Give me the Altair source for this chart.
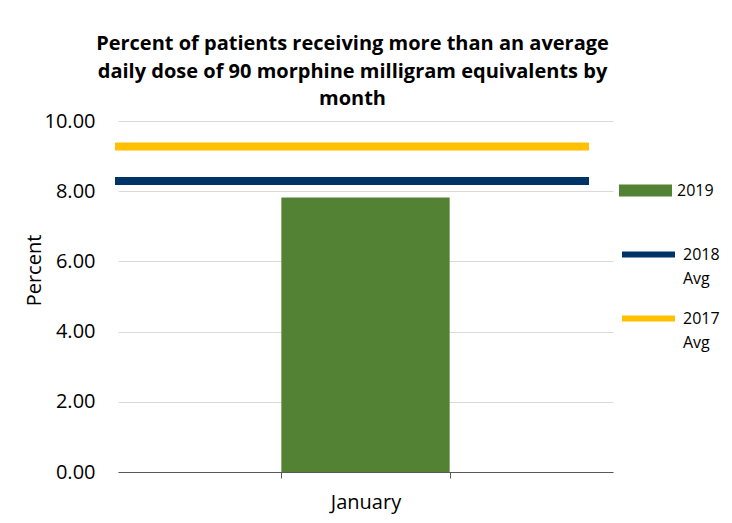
import altair as alt
import pandas as pd

FONT = "Open Sans"

months = ["January"]
values_2019 = [7.82]
avg_series = ["2018 Avg", "2017 Avg"]
avg_values = [8.29, 9.27]
y_ticks = [0, 2, 4, 6, 8, 10]

# second line of each average's legend label ("Avg"), keyed separately so the legends stay apart
avg_second_line = ["Avg 2018", "Avg 2017"]

bar_df = pd.DataFrame({"month": months, "value": values_2019, "series": ["2019"] * len(months)})
avg_df = pd.DataFrame({"series": avg_series, "series_b": avg_second_line, "value": avg_values})

y_scale = alt.Scale(domain=[0, 10], nice=False)

bars = alt.Chart(bar_df).mark_bar().encode(
    x=alt.X("month:N", scale=alt.Scale(paddingInner=0.66, paddingOuter=0.33),
            axis=alt.Axis(title=None, labelAngle=0, domainColor="#595959", tickColor="#595959",
                          tickBand="extent", tickSize=6, labelPadding=14, labelFontSize=20,
                          labelFont=FONT, labelColor="#000000")),
    y=alt.Y("value:Q", scale=y_scale,
            axis=alt.Axis(values=y_ticks, format=".2f", domain=False, ticks=False, labelPadding=23,
                          labelFontSize=20, labelFont=FONT, labelColor="#000000",
                          gridColor="#d9d9d9", title="Percent", titleFontSize=20,
                          titleFontWeight="normal", titleFont=FONT, titleColor="#000000",
                          titleX=-84, titleY=149, titleAlign="center", titleBaseline="middle")),
    color=alt.Color("series:N", scale=alt.Scale(domain=["2019"], range=["#548235"]),
                    legend=alt.Legend(title=None, orient="none", legendX=501, legendY=43,
                                      symbolType="M-1,-0.23H1V0.23H-1Z", symbolSize=2809,
                                      symbolStrokeWidth=0, labelFontSize=16, labelFont=FONT,
                                      labelColor="#000000", labelOffset=5, padding=0)),
)

rules = alt.Chart(avg_df).mark_rule(strokeWidth=8).encode(
    y=alt.Y("value:Q", scale=y_scale),
    x=alt.value(-3),
    x2=alt.value(471),
    stroke=alt.Stroke("series:N", scale=alt.Scale(domain=avg_series, range=["#003366", "#FFC000"]),
                      legend=alt.Legend(title=None, orient="none", legendX=501, legendY=104,
                                        symbolType="stroke", symbolSize=2809, symbolStrokeWidth=6,
                                        rowPadding=22, labelExpr="split(datum.label, ' ')[0]",
                                        labelFontSize=16, labelFont=FONT, labelColor="#000000",
                                        labelOffset=5, padding=0)),
    opacity=alt.Opacity("series_b:N", scale=alt.Scale(domain=avg_second_line, range=[1, 1]),
                        legend=alt.Legend(title=None, orient="none", legendX=501, legendY=128,
                                          symbolType="stroke", symbolSize=2809, symbolStrokeWidth=6,
                                          symbolStrokeColor="#ffffff", symbolFillColor="#ffffff",
                                          rowPadding=22, labelExpr="split(datum.label, ' ')[0]",
                                          labelFontSize=16, labelFont=FONT, labelColor="#000000",
                                          labelOffset=5, padding=0)),
)

chart = alt.layer(bars, rules).resolve_legend(
    color="independent", stroke="independent", opacity="independent"
).properties(
    width=495,
    height=351,
    padding={"left": 110, "top": 113, "right": 111, "bottom": 43},
    autosize="none",
    title=alt.TitleParams(
        text=["Percent of patients receiving more than an average",
              "daily dose of 90 morphine milligram equivalents by",
              "month"],
        fontSize=20, fontWeight="bold", font=FONT, color="#000000",
        lineHeight=27.5, dx=-13, offset=2, anchor="middle",
    ),
).configure_view(stroke=None)

chart.save("out.html", embed_options={"renderer": "svg", "actions": False})
